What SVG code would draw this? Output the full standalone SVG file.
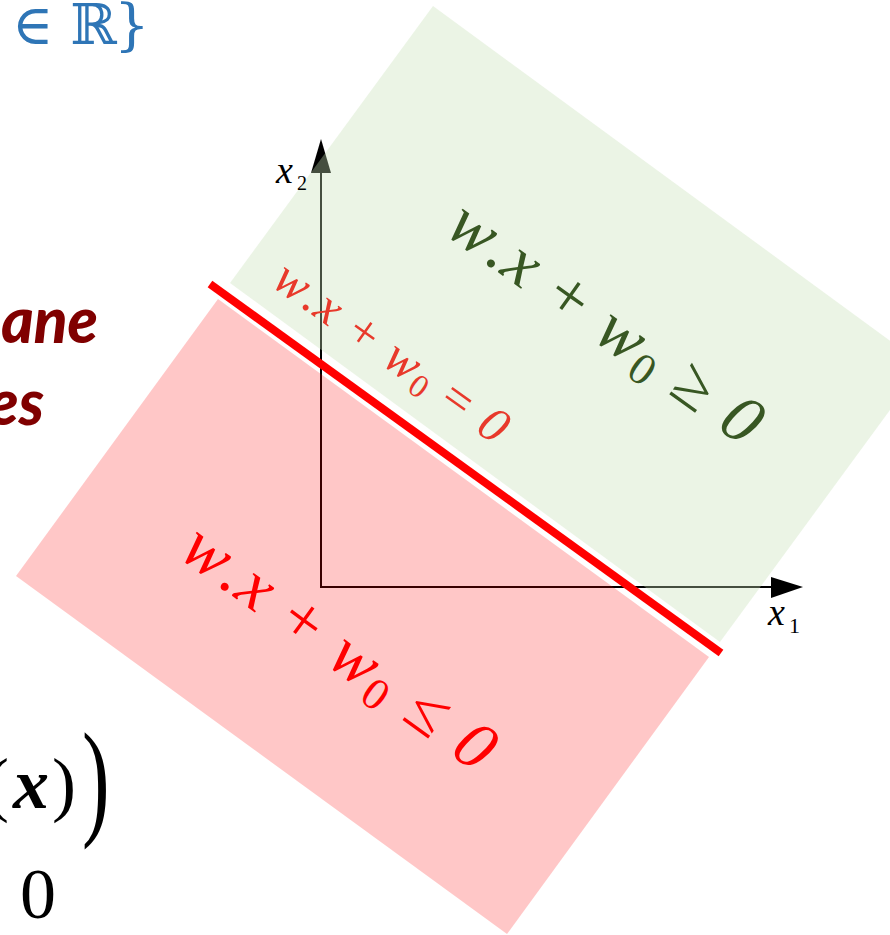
<svg xmlns="http://www.w3.org/2000/svg" width="890" height="935" viewBox="0 0 890 935">
<style>
.serif{font-family:"Liberation Serif","DejaVu Serif",serif}
.math{font-family:"DejaVu Serif","DejaVu Sans",serif}
.it{font-style:italic}
.head{font-family:Lato,"Liberation Sans",sans-serif;font-weight:900;font-style:italic;fill:#800000;font-size:62px}
.axis{stroke:#000;stroke-width:2;fill:none}
</style>
<rect width="890" height="935" fill="#fff"/>
<g id="title-fragment">
<text class="math" x="12" y="44" font-size="56" fill="#2E75B6">∈</text>
<text class="math" x="70" y="44" font-size="56" fill="#2E75B6">ℝ</text>
<text class="math" x="114" y="44" font-size="56" fill="#2E75B6">}</text>
</g>
<g id="heading-fragment">
<text class="head" x="98" y="343" text-anchor="end">ane</text>
<text class="head" x="44" y="425" text-anchor="end">es</text>
</g>
<g id="formula-fragment" class="serif" fill="#000">
<text x="-15" y="808" font-size="72">(</text>
<text x="13" y="808" font-size="72" font-weight="bold" font-style="italic">x</text>
<text x="52" y="808" font-size="72">)</text>
<text x="82" y="808" font-size="72" transform="translate(82,790) scale(1.15,1.8) translate(-82,-790)">)</text>
<text x="20" y="918" font-size="72">0</text>
</g>
<g id="connectors">
<line class="axis" x1="321" y1="588" x2="321" y2="172"/>
<polygon points="321,139 311,173 331,173" fill="#000"/>
<line class="axis" x1="320" y1="587" x2="772" y2="587"/>
<polygon points="803,587 771,577 771,598" fill="#000"/>
</g>
<g id="region-positive">
<polygon points="433,6 923,365 720,642 230,283" fill="#C5E0B4" fill-opacity="0.35"/>
</g>
<g id="region-negative">
<polygon points="218,299 709,657 507,934 16,576" fill="#FF0000" fill-opacity="0.22"/>
</g>
<g id="hyperplane">
<line x1="210" y1="284" x2="721" y2="653" stroke="#FF0000" stroke-width="8"/>
</g>
<g id="axis-labels" class="serif" fill="#000">
<text x="276" y="183" font-size="38" class="it">x</text>
<text x="297" y="190" font-size="20">2</text>
<text x="768" y="625" font-size="38" class="it">x</text>
<text x="789" y="633" font-size="22">1</text>
</g>
<g id="label-positive">
<text class="serif" font-size="68" fill="#385723" transform="translate(443,233) rotate(35.5)" textLength="369" lengthAdjust="spacing"><tspan class="it">w</tspan>.<tspan class="it">x</tspan> + <tspan class="it">w</tspan><tspan font-size="45" dy="10">0</tspan><tspan dy="-10"> ≥ </tspan><tspan class="it">0</tspan></text>
</g>
<g id="label-boundary">
<text class="serif" font-size="50" fill="#E8392B" transform="translate(270,285) rotate(35.5)" textLength="276" lengthAdjust="spacing"><tspan class="it">w</tspan>.<tspan class="it">x</tspan> + <tspan class="it">w</tspan><tspan font-size="33" dy="7">0</tspan><tspan dy="-7"> = </tspan><tspan class="it">0</tspan></text>
</g>
<g id="label-negative">
<text class="serif" font-size="68" fill="#FF0000" transform="translate(177,556) rotate(36)" textLength="370" lengthAdjust="spacing"><tspan class="it">w</tspan>.<tspan class="it">x</tspan> + <tspan class="it">w</tspan><tspan font-size="45" dy="10">0</tspan><tspan dy="-10"> ≤ </tspan><tspan class="it">0</tspan></text>
</g>
</svg>
